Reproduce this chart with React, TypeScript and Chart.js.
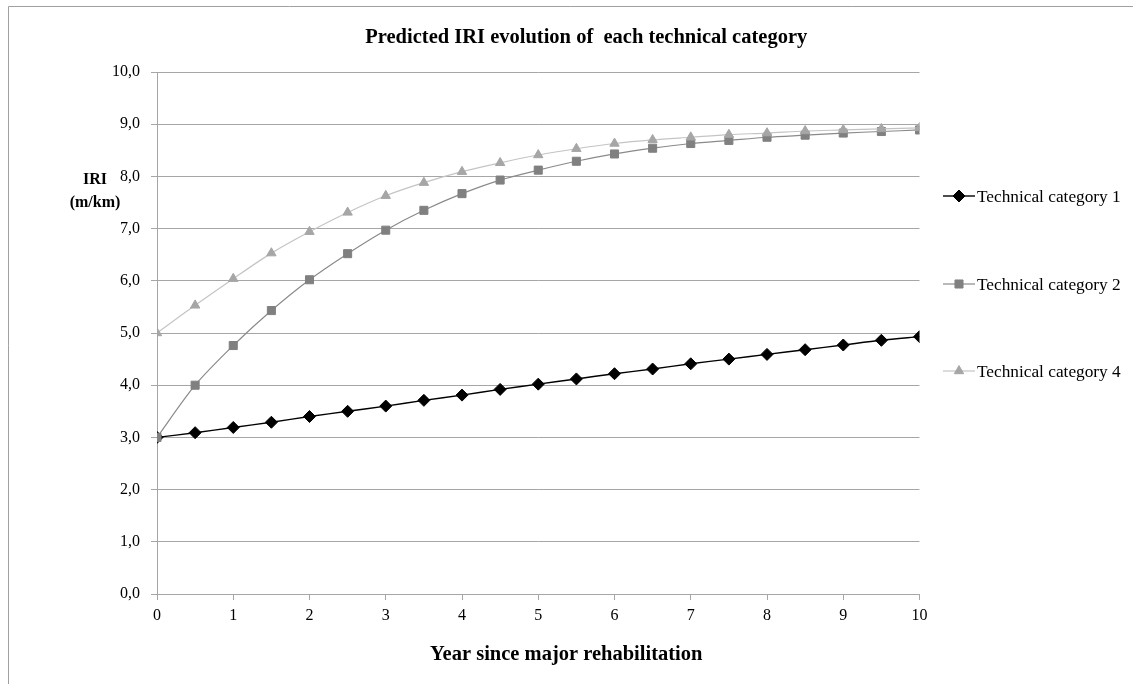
import React, { useEffect, useRef } from 'react';
import { Chart, registerables } from 'chart.js';
import { drawPoint } from 'chart.js/helpers';

Chart.register(...registerables);

const years = [0, 0.5, 1, 1.5, 2, 2.5, 3, 3.5, 4, 4.5, 5, 5.5, 6, 6.5, 7, 7.5, 8, 8.5, 9, 9.5, 10];
const cat1 = [3.0, 3.09, 3.19, 3.29, 3.4, 3.5, 3.6, 3.71, 3.81, 3.92, 4.02, 4.12, 4.22, 4.31, 4.41, 4.5, 4.59, 4.68, 4.77, 4.86, 4.93];
const cat2 = [3.0, 4.0, 4.76, 5.43, 6.02, 6.52, 6.97, 7.35, 7.67, 7.93, 8.12, 8.29, 8.43, 8.54, 8.63, 8.69, 8.75, 8.79, 8.83, 8.86, 8.89];
const cat4 = [5.0, 5.53, 6.04, 6.53, 6.94, 7.31, 7.63, 7.88, 8.09, 8.26, 8.41, 8.53, 8.63, 8.7, 8.75, 8.8, 8.83, 8.87, 8.89, 8.91, 8.93];
const seriesNames = ['Technical category 1', 'Technical category 2', 'Technical category 4'];
const chartTitle = 'Predicted IRI evolution of  each technical category';
const xTitle = 'Year since major rehabilitation';
const yTitleLines = ['IRI', '(m/km)'];

const SERIF = '"Liberation Serif", "Times New Roman", serif';
const GRID = '#a6a6a6';

const toPoints = (vals: number[]) => vals.map((v, i) => ({ x: years[i], y: v }));

const decorPlugin = {
  id: 'decor',
  beforeDraw(chart: any) {
    const ctx = chart.ctx;
    ctx.save();
    ctx.fillStyle = '#ffffff';
    ctx.fillRect(0, 0, chart.width, chart.height);
    ctx.strokeStyle = '#a0a0a0';
    ctx.lineWidth = 1;
    ctx.beginPath();
    ctx.moveTo(8.5, chart.height);
    ctx.lineTo(8.5, 6.5);
    ctx.lineTo(chart.width, 6.5);
    ctx.stroke();
    ctx.restore();
  },
  afterDraw(chart: any) {
    const ctx = chart.ctx;
    const area = chart.chartArea;
    ctx.save();
    ctx.fillStyle = '#000';
    ctx.textAlign = 'center';
    ctx.textBaseline = 'middle';
    // title
    ctx.font = `bold 20.5px ${SERIF}`;
    ctx.fillText(chartTitle, (area.left + area.right) / 2 + 48, 38);
    // x title
    ctx.font = `bold 20.5px ${SERIF}`;
    ctx.fillText(xTitle, (area.left + area.right) / 2 + 28, 655);
    // y title
    ctx.font = `bold 16px ${SERIF}`;
    ctx.fillText(yTitleLines[0], 95, 180);
    ctx.fillText(yTitleLines[1], 95, 203);
    // legend
    const legendY = [196, 284, 371];
    chart.data.datasets.forEach((ds: any, i: number) => {
      const y = legendY[i];
      ctx.strokeStyle = ds.borderColor;
      ctx.lineWidth = ds.borderWidth;
      ctx.beginPath();
      ctx.moveTo(943, y);
      ctx.lineTo(975, y);
      ctx.stroke();
      ctx.fillStyle = ds.pointBackgroundColor;
      ctx.strokeStyle = ds.pointBorderColor;
      ctx.lineWidth = 1;
      drawPoint(ctx, { pointStyle: ds.pointStyle, radius: ds.pointRadius, borderWidth: 1, rotation: 0 }, 959, y);
      ctx.fillStyle = '#000';
      ctx.textAlign = 'left';
      ctx.font = `17.3px ${SERIF}`;
      ctx.fillText(ds.label, 977, y + 1);
    });
    ctx.restore();
  },
};

export default function App() {
  const ref = useRef<HTMLCanvasElement>(null);
  useEffect(() => {
    if (!ref.current) return;
    const chart = new Chart(ref.current, {
      type: 'line',
      data: {
        datasets: [
          {
            label: seriesNames[0],
            data: toPoints(cat1),
            borderColor: '#000000',
            borderWidth: 1.4,
            pointStyle: 'rectRot',
            pointRadius: 6,
            pointBackgroundColor: '#000000',
            pointBorderColor: '#000000',
            pointBorderWidth: 1,
            tension: 0.3,
            order: 3,
          },
          {
            label: seriesNames[1],
            data: toPoints(cat2),
            borderColor: '#8a8a8a',
            borderWidth: 1.2,
            pointStyle: 'rect',
            pointRadius: 5.7,
            pointBackgroundColor: '#808080',
            pointBorderColor: '#808080',
            pointBorderWidth: 1,
            tension: 0.3,
            order: 2,
          },
          {
            label: seriesNames[2],
            data: toPoints(cat4),
            borderColor: '#c4c4c4',
            borderWidth: 1.2,
            pointStyle: 'triangle',
            pointRadius: 5.4,
            pointBackgroundColor: '#a6a6a6',
            pointBorderColor: '#a6a6a6',
            pointBorderWidth: 1,
            tension: 0.3,
            order: 1,
          },
        ],
      },
      options: {
        animation: false,
        responsive: false,
        devicePixelRatio: 1,
        layout: { padding: { top: 72, right: 213.5, left: 0, bottom: 0 } },
        plugins: {
          legend: { display: false },
          title: { display: false },
          tooltip: { enabled: false },
        },
        scales: {
          x: {
            type: 'linear',
            min: 0,
            max: 10,
            afterFit: (s: any) => { s.height = 90; },
            ticks: { stepSize: 1, color: '#000', font: { family: SERIF, size: 16 }, padding: 6, maxRotation: 0 },
            grid: { drawOnChartArea: false, drawTicks: true, tickLength: 6, color: GRID },
            border: { display: true, color: GRID },
          },
          y: {
            min: 0,
            max: 10,
            afterFit: (s: any) => { s.width = 157; },
            ticks: {
              stepSize: 1,
              color: '#000',
              font: { family: SERIF, size: 16 },
              padding: 11,
              callback: (v: any) => Number(v).toFixed(1).replace('.', ','),
            },
            grid: { drawOnChartArea: true, drawTicks: true, tickLength: 6, color: GRID },
            border: { display: true, color: GRID },
          },
        },
      },
      plugins: [decorPlugin],
    });
    return () => chart.destroy();
  }, []);
  return (
    <div style={{ position: 'fixed', left: 0, top: 0, width: 1133, height: 684 }}>
      <canvas ref={ref} width={1133} height={684} style={{ display: 'block' }} />
    </div>
  );
}
